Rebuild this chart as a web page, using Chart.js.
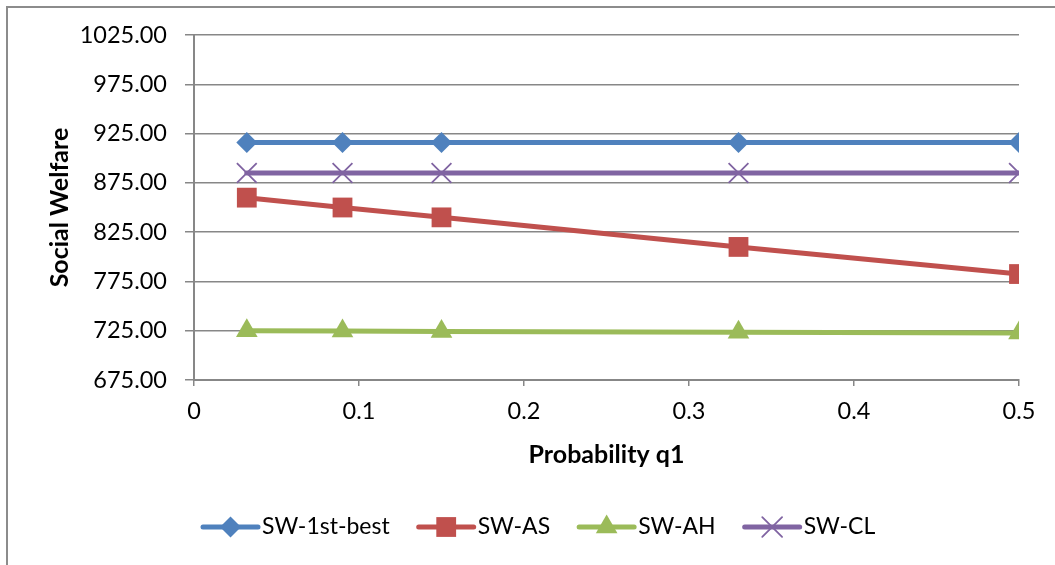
<!DOCTYPE html>
<html>
<head>
<meta charset="utf-8">
<script src="https://cdn.jsdelivr.net/npm/chart.js@4/dist/chart.umd.min.js"></script>
<style>
  html, body { margin: 0; padding: 0; background: #fff; }
  #wrap { width: 1055px; height: 565px; position: relative; }
</style>
</head>
<body>
<div id="wrap"><canvas id="c" width="1055" height="565"></canvas></div>
<script>
// ---- data ----
const probabilityQ1 = [0.032, 0.09, 0.15, 0.33, 0.5];
const sw1stBest = [916, 916, 916, 916, 916];
const swAS = [860, 850, 840, 810, 782.5];
const swAH = [725, 724.7, 724.3, 723.5, 722.6];
const swCL = [885, 885, 885, 885, 885];
const seriesNames = ['SW-1st-best', 'SW-AS', 'SW-AH', 'SW-CL'];
const yTickMin = 675, yTickMax = 1025, yTickStep = 50;
const xTickMin = 0, xTickMax = 0.5, xTickStep = 0.1;
const xTitle = 'Probability q1';
const yTitle = 'Social Welfare';

const FONT = 'Lato, "Open Sans", sans-serif';
const GRID = '#878787';
const colors = ['#4F81BD', '#C0504D', '#9BBB59', '#8064A2'];
const styles = [
  { pointStyle: 'rectRot', radius: 10.5, bw: 0 },
  { pointStyle: 'rect', radius: 14, bw: 0 },
  { pointStyle: 'triangle', radius: 12.5, bw: 0 },
  { pointStyle: 'crossRot', radius: 14, bw: 1.8 }
];
const allValues = [sw1stBest, swAS, swAH, swCL];

const datasets = allValues.map((vals, i) => ({
  label: seriesNames[i],
  data: vals.map((v, k) => ({ x: probabilityQ1[k], y: v })),
  borderColor: colors[i],
  backgroundColor: colors[i],
  borderWidth: 5,
  borderCapStyle: 'round',
  pointStyle: styles[i].pointStyle,
  pointRadius: styles[i].radius,
  pointHoverRadius: styles[i].radius,
  pointBorderWidth: styles[i].bw,
  pointBackgroundColor: colors[i],
  pointBorderColor: colors[i],
  tension: 0
}));

const framePlugin = {
  id: 'frame',
  beforeDraw(chart) {
    const ctx = chart.ctx;
    ctx.save();
    ctx.fillStyle = '#fff';
    ctx.fillRect(0, 0, chart.width, chart.height);
    ctx.strokeStyle = '#8c8c8c';
    ctx.lineWidth = 2;
    ctx.beginPath();
    ctx.moveTo(7, chart.height);
    ctx.lineTo(7, 7);
    ctx.lineTo(chart.width, 7);
    ctx.stroke();
    ctx.restore();
  }
};

function drawMarker(ctx, ds, cx, cy) {
  ctx.save();
  ctx.fillStyle = ds.pointBackgroundColor;
  ctx.strokeStyle = ds.pointBorderColor;
  ctx.lineWidth = ds.pointBorderWidth || 0;
  Chart.helpers.drawPoint(ctx, {
    pointStyle: ds.pointStyle,
    radius: ds.pointRadius,
    borderWidth: ds.pointBorderWidth || 0,
    rotation: 0
  }, cx, cy);
  ctx.restore();
}

const legendPlugin = {
  id: 'customLegend',
  afterDraw(chart) {
    const ctx = chart.ctx;
    ctx.save();
    ctx.font = '23px ' + FONT;
    ctx.textBaseline = 'middle';
    let x = 203;
    const y = 527;
    chart.data.datasets.forEach((ds) => {
      ctx.strokeStyle = ds.borderColor;
      ctx.lineWidth = 5;
      ctx.lineCap = 'round';
      ctx.beginPath();
      ctx.moveTo(x, y);
      ctx.lineTo(x + 55, y);
      ctx.stroke();
      drawMarker(ctx, ds, x + 27.5, y);
      ctx.fillStyle = '#000';
      ctx.fillText(ds.label, x + 59, y);
      x += 59 + ctx.measureText(ds.label).width + 29;
    });
    ctx.restore();
  }
};

new Chart(document.getElementById('c'), {
  type: 'line',
  data: { datasets },
  options: {
    responsive: false,
    animation: false,
    devicePixelRatio: 1,
    layout: { padding: { left: 0, top: 35, right: 36, bottom: 85 } },
    plugins: {
      legend: { display: false },
      tooltip: { enabled: false }
    },
    scales: {
      x: {
        type: 'linear',
        min: xTickMin,
        max: xTickMax,
        ticks: {
          stepSize: xTickStep,
          color: '#000',
          font: { family: FONT, size: 23.5 },
          padding: 11,
          maxRotation: 0,
          callback: v => String(+v.toFixed(1))
        },
        grid: { drawOnChartArea: false, drawTicks: true, tickLength: 6, color: GRID, lineWidth: 1.5 },
        border: { color: GRID, width: 2 },
        title: {
          display: true,
          text: xTitle,
          color: '#000',
          font: { family: FONT, size: 25, weight: 'bold' },
          padding: { top: 0, bottom: 10 }
        },
        afterFit(scale) { scale.height = 100; }
      },
      y: {
        min: yTickMin,
        max: yTickMax,
        ticks: {
          stepSize: yTickStep,
          color: '#000',
          font: { family: FONT, size: 23.5 },
          padding: 18,
          callback: v => Number(v).toFixed(2)
        },
        grid: { color: GRID, lineWidth: 1.5, tickLength: 9 },
        border: { color: GRID, width: 2 },
        title: {
          display: true,
          text: yTitle,
          color: '#000',
          font: { family: FONT, size: 25, weight: 'bold' },
          padding: { top: 45, bottom: 0 }
        },
        afterFit(scale) { scale.width = 194; }
      }
    }
  },
  plugins: [framePlugin, legendPlugin]
});
</script>
</body>
</html>
